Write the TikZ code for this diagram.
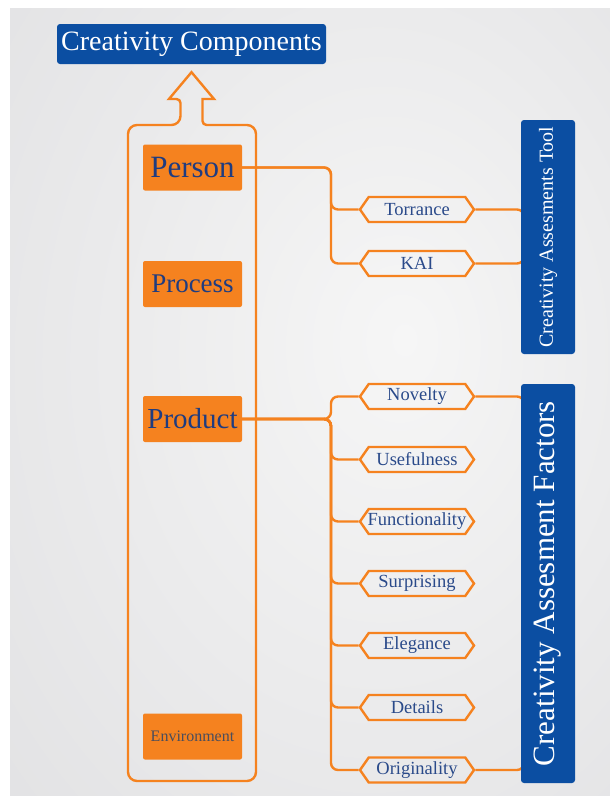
\documentclass[tikz,border=0pt]{standalone}
\usepackage{fontspec}
\setmainfont{Liberation Serif}
\usetikzlibrary{shapes.symbols,calc}
\definecolor{orng}{HTML}{F5821F}
\definecolor{bluefill}{HTML}{0B4EA2}
\definecolor{navy}{HTML}{1F3C80}
\definecolor{hexblue}{HTML}{2A4A8A}
\definecolor{envgray}{HTML}{4A4D5C}
\definecolor{bgA}{HTML}{F6F6F6}
\definecolor{bgB}{HTML}{EBEBEC}
\definecolor{bgC}{HTML}{E0E0E2}
\definecolor{bgD}{HTML}{D8D8DA}
\pgfdeclareradialshading{bgshade}{\pgfpoint{8bp}{4bp}}{color(0bp)=(bgA); color(22bp)=(bgB); color(45bp)=(bgC); color(70bp)=(bgD)}
\pgfdeclarelayer{back}
\pgfdeclarelayer{links}
\pgfsetlayers{back,links,main}
\newcommand{\hx}[1]{\makebox[60pt][c]{#1}}
\begin{document}
\begin{tikzpicture}[x=1pt,y=-1pt,
  comp/.style={fill=orng, rounded corners=2pt, minimum width=99pt, minimum height=46pt, inner sep=0pt, text=navy},
  hexa/.style={signal, signal to=east and west, signal pointer angle=110, draw=orng, line width=2.4pt,
    minimum width=114pt, minimum height=25pt, inner sep=0pt, text=hexblue, font=\fontsize{18.5}{18.5}\selectfont},
  bluebox/.style={fill=bluefill, rounded corners=3pt, text=white, inner sep=0pt},
  conn/.style={draw=orng, line width=2.4pt, rounded corners=7pt}]
\useasboundingbox (0,0) rectangle (610,796);
\begin{pgfonlayer}{back}
\fill[white] (0,0) rectangle (610,796);
\shade[shading=bgshade] (10,8) rectangle (610,796);
\end{pgfonlayer}

% title
\node[bluebox, minimum width=269pt, minimum height=40pt, font=\fontsize{28}{28}\selectfont] (title) at (191.5,44) {Creativity Components};

% components
\node[comp, font=\fontsize{31}{31}\selectfont] (person) at (192.5,167.5) {Person};
\node[comp, font=\fontsize{27}{27}\selectfont] (process) at (192.5,284) {Process};
\node[comp, font=\fontsize{29}{29}\selectfont] (product) at (192.5,419) {Product};
\node[comp, text=envgray, font=\fontsize{16}{16}\selectfont] (env) at (192.5,736.5) {Environment};

% big arrow outline
\coordinate (tip) at ($(title.south)+(0,8)$);
\draw[orng, line width=2.4pt, line join=miter]
  (tip) -- (214,99) -- (202.5,99) [rounded corners=4pt] -- (202.5,125) [rounded corners=9pt] -- (256,125)
  -- (256,781) -- (128,781) -- (128,125) -- (180.5,125) [rounded corners=4pt] -- (180.5,99) [sharp corners] -- (169,99) -- cycle;

% hexagons
\node[hexa] (torr) at (417,209.5) {\hx{Torrance}};
\node[hexa] (kai)  at (417,263.5) {\hx{KAI}};
\node[hexa] (nov)  at (417,396.5) {\hx{Novelty}};
\node[hexa] (use)  at (417,459.5) {\hx{Usefulness}};
\node[hexa] (fun)  at (417,521.5) {\hx{Functionality}};
\node[hexa] (sur)  at (417,583.5) {\hx{Surprising}};
\node[hexa] (ele)  at (417,645.5) {\hx{Elegance}};
\node[hexa] (det)  at (417,707.5) {\hx{Details}};
\node[hexa] (ori)  at (417,770) {\hx{Originality}};

% blue vertical boxes
\node[bluebox, rotate=90, minimum width=234pt, minimum height=54pt, font=\fontsize{20}{20}\selectfont] (tool) at (548,237) {Creativity Assesments Tool};
\node[bluebox, rotate=90, minimum width=399pt, minimum height=54pt, font=\fontsize{31}{31}\selectfont] (factors) at (548,583.5) {Creativity Assesment Factors};

% connectors
\coordinate (ja) at (331,0);
\coordinate (jb) at (524,0);
\begin{pgfonlayer}{links}
\draw[conn] (person.east) -| (ja |- torr.west) -- (torr.west);
\draw[conn] (person.east) -| (ja |- kai.west) -- (kai.west);
\foreach \h in {nov,use,fun,sur,ele,det,ori}
  \draw[conn] (product.east) -| (ja |- \h.west) -- (\h.west);
\draw[conn] (torr.east) -| (jb |- kai.east) -- (kai.east);
\draw[conn] (nov.east) -| (jb |- ori.east) -- (ori.east);
\end{pgfonlayer}
\end{tikzpicture}
\end{document}
